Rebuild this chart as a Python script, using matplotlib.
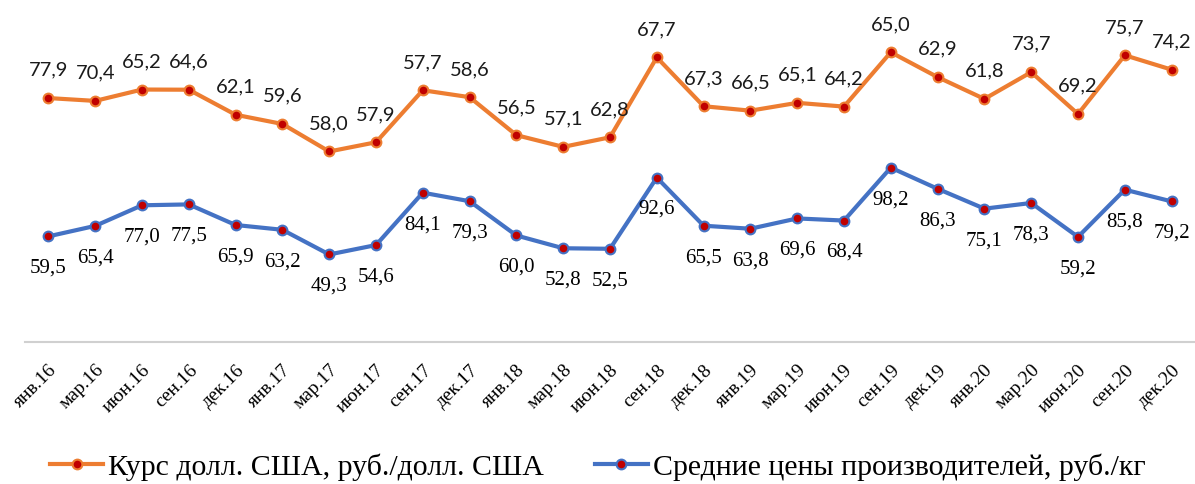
import matplotlib
matplotlib.use("Agg")
import matplotlib.pyplot as plt
import numpy as np

categories = ["янв.16", "мар.16", "июн.16", "сен.16", "дек.16",
              "янв.17", "мар.17", "июн.17", "сен.17", "дек.17",
              "янв.18", "мар.18", "июн.18", "сен.18", "дек.18",
              "янв.19", "мар.19", "июн.19", "сен.19", "дек.19",
              "янв.20", "мар.20", "июн.20", "сен.20", "дек.20"]

usd_rate = [77.9, 70.4, 65.2, 64.6, 62.1,
            59.6, 58.0, 57.9, 57.7, 58.6,
            56.5, 57.1, 62.8, 67.7, 67.3,
            66.5, 65.1, 64.2, 65.0, 62.9,
            61.8, 73.7, 69.2, 75.7, 74.2]

producer_price = [59.5, 65.4, 77.0, 77.5, 65.9,
                  63.2, 49.3, 54.6, 84.1, 79.3,
                  60.0, 52.8, 52.5, 92.6, 65.5,
                  63.8, 69.6, 68.4, 98.2, 86.3,
                  75.1, 78.3, 59.2, 85.8, 79.2]

series_names = ["Курс долл. США, руб./долл. США",
                "Средние цены производителей, руб./кг"]

plt.rcParams['font.family'] = ['Liberation Serif', 'DejaVu Serif']

ORANGE = "#ED7D31"
BLUE = "#4472C4"
RED = "#C00000"

fig = plt.figure(figsize=(11.95, 4.84), dpi=100)
ax = fig.add_axes([25/1195, 142/484, 1170/1195, 332/484])

x = np.arange(len(categories))
blue_vals = np.array(producer_price)
orange_stacked = blue_vals + np.array(usd_rate)

l1, = ax.plot(x, orange_stacked, color=ORANGE, lw=3, marker='o', ms=7,
              mfc=RED, mec=ORANGE, mew=1.5, zorder=3)
l2, = ax.plot(x, blue_vals, color=BLUE, lw=3, marker='o', ms=7,
              mfc=RED, mec=BLUE, mew=1.5, zorder=3)

def fmt(v):
    return f"{v:.1f}".replace('.', ',')

for xi, yv, v in zip(x, orange_stacked, usd_rate):
    ax.annotate(fmt(v), (xi, yv), xytext=(0, 20), textcoords='offset points',
                ha='center', va='center', fontsize=14.5, color='#1a1a1a',
                family=['Lato', 'DejaVu Sans'])
for xi, yv, v in zip(x, blue_vals, producer_price):
    ax.annotate(fmt(v), (xi, yv), xytext=(0, -23), textcoords='offset points',
                ha='center', va='center', fontsize=15, color='black')

ax.set_xlim(-0.5, len(categories) - 0.5)
ax.set_ylim(0, 187)
ax.set_xticks(x)
ax.set_xticklabels(categories, rotation=45, ha='right', va='top',
                   rotation_mode='anchor', fontsize=14)
ax.tick_params(axis='x', length=0, pad=14)
ax.set_yticks([])
for s in ['top', 'right', 'left']:
    ax.spines[s].set_visible(False)
ax.spines['bottom'].set_color('#D0D0D0')
ax.spines['bottom'].set_linewidth(1.5)

fig.legend([l1, l2], series_names, loc='center', bbox_to_anchor=(0.5, 17/484),
           ncol=2, frameon=False, fontsize=21.5, handlelength=1.8,
           handletextpad=0.15, columnspacing=1.7)

fig.savefig("out.png", dpi=100)
